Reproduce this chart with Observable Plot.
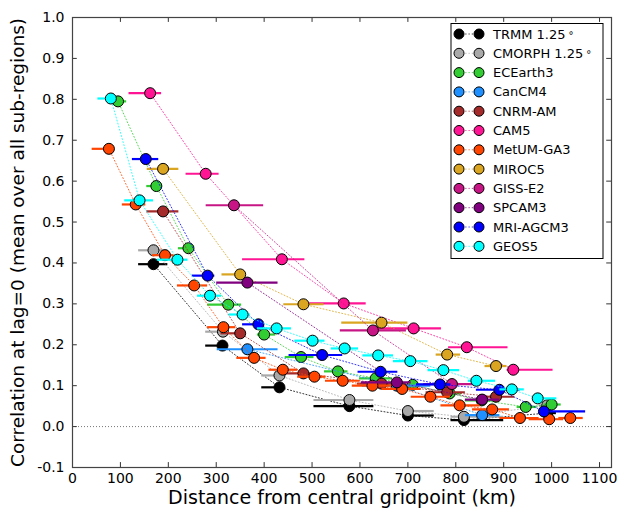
<!DOCTYPE html>
<html>
<head>
<meta charset="utf-8">
<script src="https://cdn.jsdelivr.net/npm/d3@7"></script>
<script src="https://cdn.jsdelivr.net/npm/@observablehq/plot@0.6"></script>
<style>
  body { margin: 0; background: #fff; }
  #chart { width: 624px; height: 517px; }
</style>
</head>
<body>
<div id="chart"></div>
<script>
// ---- Data ----
const seriesNames = ["TRMM 1.25°", "CMORPH 1.25°", "ECEarth3", "CanCM4", "CNRM-AM", "CAM5",
  "MetUM-GA3", "MIROC5", "GISS-E2", "SPCAM3", "MRI-AGCM3", "GEOS5"];
const seriesColors = ["#000000", "#a9a9a9", "#32cd32", "#1e90ff", "#a52a2a", "#ff1493",
  "#ff4500", "#daa520", "#c71585", "#800080", "#0000ff", "#00ffff"];

const trmmX  = [169, 313, 432, 578, 700, 817, 991];
const trmmY  = [0.397, 0.198, 0.096, 0.050, 0.027, 0.016, 0.033];
const trmmLo = [138, 278, 395, 504, 694, 790, 974];
const trmmHi = [199, 324, 442, 629, 755, 900, 1010];

const cmorphX  = [169, 314, 432, 578, 700, 817, 991];
const cmorphY  = [0.431, 0.232, 0.125, 0.065, 0.038, 0.024, 0.052];
const cmorphLo = [138, 278, 395, 504, 694, 790, 974];
const cmorphHi = [199, 324, 442, 629, 755, 900, 1010];

const ecX  = [95, 175, 242, 325, 400, 477, 554, 633, 710, 787, 854, 946, 1000];
const ecY  = [0.795, 0.588, 0.436, 0.298, 0.225, 0.170, 0.135, 0.118, 0.102, 0.081, 0.064, 0.048, 0.054];
const ecLo = [86, 155, 221, 282, 386, 444, 526, 599, 677, 776, 820, 928, 984];
const ecHi = [113, 185, 250, 353, 424, 504, 575, 668, 738, 812, 882, 969, 1020];

const canX  = [365, 677, 855];
const canY  = [0.189, 0.100, 0.028];
const canLo = [302, 605, 820];
const canHi = [429, 748, 892];

const cnrmX  = [189, 350, 482, 645, 782, 884];
const cnrmY  = [0.526, 0.228, 0.130, 0.105, 0.084, 0.073];
const cnrmLo = [155, 310, 442, 595, 738, 851];
const cnrmHi = [222, 361, 511, 697, 820, 923];

const cam5X  = [162, 278, 437, 566, 712, 823, 920];
const cam5Y  = [0.815, 0.618, 0.409, 0.301, 0.240, 0.194, 0.139];
const cam5Lo = [118, 237, 355, 495, 633, 785, 907];
const cam5Hi = [186, 306, 485, 613, 770, 909, 1003];

const metX  = [76, 132, 193, 254, 315, 379, 439, 505, 564, 626, 688, 747, 808, 876, 934, 995, 1039];
const metY  = [0.679, 0.543, 0.419, 0.345, 0.243, 0.168, 0.139, 0.122, 0.112, 0.100, 0.092, 0.073, 0.052, 0.042, 0.021, 0.018, 0.021];
const metLo = [41, 104, 167, 219, 282, 343, 410, 470, 528, 584, 646, 707, 769, 835, 892, 953, 1015];
const metHi = [86, 153, 212, 282, 341, 404, 470, 529, 600, 666, 728, 789, 851, 912, 974, 1025, 1066];

const mirocX  = [189, 350, 482, 645, 782, 884];
const mirocY  = [0.630, 0.372, 0.299, 0.254, 0.176, 0.148];
const mirocLo = [156, 312, 441, 562, 759, 861];
const mirocHi = [222, 358, 525, 700, 810, 907];

const gissX  = [337, 627, 792];
const gissY  = [0.541, 0.235, 0.104];
const gissLo = [279, 559, 733];
const gissHi = [399, 697, 851];

const spcamX  = [365, 677, 855];
const spcamY  = [0.352, 0.108, 0.066];
const spcamLo = [301, 603, 820];
const spcamHi = [429, 707, 892];

const mriX  = [153, 282, 388, 521, 643, 767, 891, 984];
const mriY  = [0.654, 0.369, 0.250, 0.175, 0.134, 0.103, 0.090, 0.037];
const mriLo = [125, 250, 355, 452, 596, 718, 843, 984];
const mriHi = [180, 297, 400, 564, 679, 790, 934, 1071];

const geosX  = [80, 140, 219, 287, 355, 426, 501, 568, 638, 705, 774, 843, 917, 971];
const geosY  = [0.802, 0.553, 0.408, 0.320, 0.274, 0.240, 0.210, 0.191, 0.174, 0.160, 0.138, 0.112, 0.091, 0.069];
const geosLo = [53, 109, 177, 261, 327, 386, 464, 540, 606, 670, 742, 826, 892, 961];
const geosHi = [86, 169, 241, 311, 371, 457, 527, 597, 670, 742, 808, 883, 943, 1011];

const xTicks = [0, 100, 200, 300, 400, 500, 600, 700, 800, 900, 1000, 1100];
const yTicks = [-0.1, 0.0, 0.1, 0.2, 0.3, 0.4, 0.5, 0.6, 0.7, 0.8, 0.9, 1.0];
const xMax = 1125;

// ---- Build tables ----
const seriesData = [
  [trmmX, trmmY, trmmLo, trmmHi],
  [cmorphX, cmorphY, cmorphLo, cmorphHi],
  [ecX, ecY, ecLo, ecHi],
  [canX, canY, canLo, canHi],
  [cnrmX, cnrmY, cnrmLo, cnrmHi],
  [cam5X, cam5Y, cam5Lo, cam5Hi],
  [metX, metY, metLo, metHi],
  [mirocX, mirocY, mirocLo, mirocHi],
  [gissX, gissY, gissLo, gissHi],
  [spcamX, spcamY, spcamLo, spcamHi],
  [mriX, mriY, mriLo, mriHi],
  [geosX, geosY, geosLo, geosHi]
];
const tables = seriesData.map(([xs, ys, lo, hi], i) =>
  xs.map((x, j) => ({series: seriesNames[i], x, y: ys[j], lo: lo[j], hi: hi[j]})));

const perSeriesMarks = tables.flatMap((rows, i) => {
  const c = seriesColors[i];
  return [
    Plot.line(rows, {x: "x", y: "y", stroke: c, strokeWidth: 1, strokeDasharray: "1,2.2", strokeOpacity: 0.8}),
    Plot.ruleY(rows, {y: "y", x1: "lo", x2: "hi", stroke: c, strokeWidth: 2.2}),
    Plot.dot(rows, {x: "x", y: "y", r: 5.5, fill: c, stroke: "#000", strokeWidth: 1})
  ];
});

const tickLenX = 10;   // km
const tickLenY = 0.012;

const chart = Plot.plot({
  width: 624,
  height: 517,
  marginLeft: 72,
  marginRight: 13,
  marginTop: 17,
  marginBottom: 50,
  x: {domain: [0, xMax]},
  y: {domain: [-0.1, 1.0]},
  style: {fontFamily: "DejaVu Sans", fontSize: "14px", color: "#000", background: "#fff"},
  marks: [
    Plot.ruleY([0], {stroke: "#777", strokeWidth: 1, strokeDasharray: "1,2"}),
    ...perSeriesMarks,
    // inward ticks on all four sides
    Plot.ruleX(xTicks, {x: d => d, y1: -0.1, y2: -0.1 + tickLenY, stroke: "#333"}),
    Plot.ruleX(xTicks, {x: d => d, y1: 1.0, y2: 1.0 - tickLenY, stroke: "#333"}),
    Plot.ruleY(yTicks, {y: d => d, x1: 0, x2: tickLenX, stroke: "#333"}),
    Plot.ruleY(yTicks, {y: d => d, x1: xMax, x2: xMax - tickLenX, stroke: "#333"}),
    Plot.axisX({ticks: xTicks, tickSize: 0, tickPadding: 6, tickFormat: d => String(d), label: null, fontSize: 14}),
    Plot.axisY({ticks: yTicks, tickSize: 0, tickPadding: 8, tickFormat: d => (d < 0 ? "-" : "") + Math.abs(d).toFixed(1), label: null, fontSize: 14}),
    Plot.text(["Distance from central gridpoint (km)"], {frameAnchor: "bottom", dy: 36, fontSize: 19, text: d => d}),
    Plot.text(["Correlation at lag=0 (mean over all sub-regions)"], {frameAnchor: "left", textAnchor: "middle", dx: -54, rotate: -90, fontSize: 18.5, text: d => d}),
    Plot.frame({stroke: "#444", strokeWidth: 1.2})
  ]
});

// ---- Legend (inside the plot, top-right) ----
const svg = d3.select(chart);
const lg = svg.append("g").attr("font-family", "DejaVu Sans").attr("font-size", 13).attr("text-anchor", "start");
lg.append("rect").attr("x", 451).attr("y", 23.5).attr("width", 152).attr("height", 235)
  .attr("fill", "#fff").attr("stroke", "#000").attr("stroke-width", 1);
seriesNames.forEach((name, i) => {
  const yy = 34 + i * 19.3;
  const c = seriesColors[i];
  lg.append("line").attr("x1", 459).attr("x2", 479).attr("y1", yy).attr("y2", yy)
    .attr("stroke", c).attr("stroke-width", 1).attr("stroke-dasharray", "1,2.2");
  [459, 479].forEach(cx => lg.append("circle").attr("cx", cx).attr("cy", yy).attr("r", 5)
    .attr("fill", c).attr("stroke", "#000").attr("stroke-width", 1));
  const t = lg.append("text").attr("x", 493).attr("y", yy).attr("dy", "0.35em").attr("fill", "#000")
    .attr("text-anchor", "start");
  if (name.endsWith("°")) {
    t.append("tspan").text(name.slice(0, -1));
    t.append("tspan").attr("dx", 3).attr("font-size", 10).text("°");
  } else {
    t.text(name);
  }
});

document.getElementById("chart").appendChild(chart);
</script>
</body>
</html>
